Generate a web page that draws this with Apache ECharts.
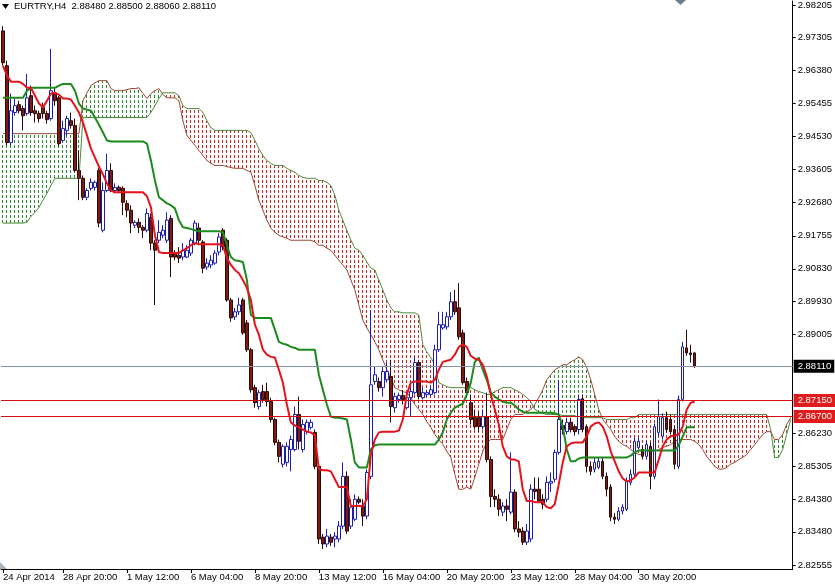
<!DOCTYPE html>
<html><head><meta charset="utf-8">
<script src="https://cdn.jsdelivr.net/npm/echarts@6/dist/echarts.min.js"></script>
<style>html,body{margin:0;padding:0;background:#fff}#c{width:835px;height:587px}</style>
</head><body><div id="c"></div>
<script>
const symbolName = 'EURTRY,H4';
const openP = [2.9748,2.9651,2.9436,2.9520,2.9542,2.9531,2.9517,2.9567,2.9525,2.9517,
 2.9534,2.9517,2.9503,2.9575,2.9561,2.9442,2.9470,2.9497,2.9484,2.9358,
 2.9336,2.9283,2.9308,2.9311,2.9358,2.9191,2.9302,2.9358,2.9302,2.9311,
 2.9308,2.9266,2.9247,2.9205,2.9213,2.9199,2.9191,2.9227,2.9155,2.9163,
 2.9177,2.9163,2.9224,2.9127,2.9121,2.9116,2.9116,2.9127,2.9155,2.9197,
 2.9158,2.9088,2.9094,2.9099,2.9130,2.9191,2.9163,2.8996,2.8949,2.8963,
 2.8996,2.8932,2.8857,2.8751,2.8698,2.8740,2.8740,2.8712,2.8662,2.8598,
 2.8537,2.8542,2.8578,2.8578,2.8676,2.8578,2.8628,2.8640,2.8626,2.8531,
 2.8333,2.8314,2.8333,2.8328,2.8328,2.8364,2.8503,2.8364,2.8383,2.8439,
 2.8420,2.8392,2.8503,2.8768,2.8768,2.8751,2.8773,2.8782,2.8695,2.8718,
 2.8729,2.8695,2.8723,2.8737,2.8821,2.8723,2.8732,2.8732,2.8737,2.8857,
 2.8918,2.8921,2.8949,2.8991,2.8974,2.8904,2.8768,2.8709,2.8667,2.8667,
 2.8642,2.8670,2.8550,2.8447,2.8439,2.8403,2.8420,2.8403,2.8459,2.8356,
 2.8350,2.8319,2.8328,2.8467,2.8467,2.8439,2.8439,2.8484,2.8495,2.8570,
 2.8645,2.8628,2.8654,2.8642,2.8634,2.8720,2.8642,2.8531,2.8523,2.8528,
 2.8545,2.8503,2.8473,2.8389,2.8383,2.8406,2.8411,2.8486,2.8509,2.8584,
 2.8578,2.8559,2.8587,2.8503,2.8626,2.8615,2.8667,2.8662,2.8634,2.8531,
 2.8718,2.8862,2.8848,2.8848];
const closeP = [2.9659,2.9436,2.9525,2.9539,2.9525,2.9511,2.9561,2.9520,2.9517,2.9503,
 2.9517,2.9500,2.9581,2.9553,2.9433,2.9475,2.9503,2.9484,2.9358,2.9336,
 2.9283,2.9302,2.9325,2.9325,2.9211,2.9302,2.9358,2.9302,2.9311,2.9302,
 2.9269,2.9247,2.9211,2.9213,2.9199,2.9191,2.9238,2.9155,2.9135,2.9185,
 2.9191,2.9219,2.9116,2.9116,2.9113,2.9135,2.9135,2.9163,2.9211,2.9163,
 2.9085,2.9099,2.9107,2.9127,2.9172,2.9144,2.8996,2.8946,2.8963,2.8982,
 2.8904,2.8857,2.8745,2.8709,2.8737,2.8718,2.8712,2.8662,2.8598,2.8559,
 2.8587,2.8587,2.8606,2.8676,2.8601,2.8648,2.8654,2.8654,2.8531,2.8328,
 2.8314,2.8336,2.8319,2.8336,2.8364,2.8503,2.8350,2.8417,2.8439,2.8431,
 2.8392,2.8514,2.8759,2.8787,2.8751,2.8796,2.8796,2.8698,2.8726,2.8729,
 2.8718,2.8723,2.8740,2.8821,2.8726,2.8737,2.8737,2.8745,2.8857,2.8927,
 2.8927,2.8949,2.8991,2.8963,2.8893,2.8765,2.8737,2.8662,2.8642,2.8642,
 2.8670,2.8550,2.8447,2.8439,2.8411,2.8420,2.8411,2.8459,2.8356,2.8347,
 2.8319,2.8350,2.8467,2.8461,2.8434,2.8425,2.8486,2.8489,2.8570,2.8662,
 2.8634,2.8654,2.8634,2.8628,2.8718,2.8634,2.8531,2.8517,2.8542,2.8545,
 2.8503,2.8467,2.8389,2.8383,2.8406,2.8417,2.8489,2.8509,2.8601,2.8601,
 2.8559,2.8592,2.8503,2.8642,2.8670,2.8667,2.8634,2.8628,2.8537,2.8718,
 2.8865,2.8848,2.8843,2.8811];
const highP = [2.9762,2.9665,2.9573,2.9559,2.9553,2.9539,2.9628,2.9595,2.9539,2.9525,
 2.9548,2.9525,2.9698,2.9587,2.9567,2.9497,2.9511,2.9520,2.9503,2.9414,
 2.9344,2.9308,2.9336,2.9330,2.9364,2.9325,2.9405,2.9378,2.9322,2.9316,
 2.9314,2.9275,2.9261,2.9219,2.9224,2.9205,2.9252,2.9238,2.9163,2.9219,
 2.9205,2.9241,2.9233,2.9135,2.9144,2.9155,2.9149,2.9169,2.9219,2.9211,
 2.9163,2.9113,2.9121,2.9135,2.9183,2.9197,2.9169,2.9002,2.8974,2.9002,
 2.9002,2.8940,2.8862,2.8759,2.8745,2.8759,2.8765,2.8723,2.8667,2.8606,
 2.8592,2.8598,2.8617,2.8698,2.8726,2.8662,2.8662,2.8662,2.8634,2.8537,
 2.8342,2.8356,2.8342,2.8347,2.8378,2.8542,2.8517,2.8439,2.8453,2.8447,
 2.8439,2.8523,2.8968,2.8810,2.8779,2.8810,2.8823,2.8829,2.8737,2.8737,
 2.8745,2.8737,2.8751,2.8837,2.8829,2.8751,2.8745,2.8759,2.8871,2.8963,
 2.8963,2.8963,2.9018,2.9024,2.9043,2.8913,2.8779,2.8732,2.8690,2.8684,
 2.8690,2.8737,2.8559,2.8467,2.8453,2.8431,2.8439,2.8570,2.8467,2.8378,
 2.8361,2.8370,2.8481,2.8500,2.8500,2.8453,2.8503,2.8514,2.8578,2.8773,
 2.8662,2.8667,2.8667,2.8648,2.8732,2.8732,2.8648,2.8545,2.8556,2.8556,
 2.8556,2.8514,2.8481,2.8400,2.8417,2.8425,2.8500,2.8523,2.8612,2.8612,
 2.8590,2.8603,2.8598,2.8651,2.8718,2.8679,2.8684,2.8676,2.8645,2.8729,
 2.8879,2.8913,2.8871,2.8850];
const lowP = [2.9651,2.9428,2.9428,2.9511,2.9517,2.9470,2.9511,2.9511,2.9492,2.9492,
 2.9503,2.9489,2.9497,2.9539,2.9425,2.9436,2.9456,2.9475,2.9353,2.9275,
 2.9275,2.9275,2.9302,2.9302,2.9199,2.9185,2.9297,2.9297,2.9294,2.9294,
 2.9233,2.9227,2.9183,2.9197,2.9183,2.9169,2.9185,2.9135,2.8982,2.9155,
 2.9169,2.9155,2.9060,2.9107,2.9099,2.9107,2.9113,2.9119,2.9149,2.9155,
 2.9071,2.9080,2.9085,2.9094,2.9121,2.9135,2.8991,2.8935,2.8940,2.8954,
 2.8899,2.8851,2.8737,2.8695,2.8690,2.8709,2.8698,2.8654,2.8590,2.8542,
 2.8528,2.8531,2.8517,2.8573,2.8578,2.8570,2.8620,2.8634,2.8523,2.8314,
 2.8300,2.8305,2.8308,2.8305,2.8319,2.8356,2.8342,2.8356,2.8378,2.8425,
 2.8364,2.8383,2.8495,2.8759,2.8740,2.8726,2.8765,2.8654,2.8681,2.8709,
 2.8704,2.8690,2.8670,2.8732,2.8718,2.8718,2.8726,2.8726,2.8732,2.8851,
 2.8913,2.8913,2.8940,2.8954,2.8885,2.8759,2.8723,2.8648,2.8634,2.8628,
 2.8634,2.8542,2.8417,2.8417,2.8392,2.8392,2.8378,2.8397,2.8347,2.8333,
 2.8311,2.8311,2.8319,2.8439,2.8431,2.8411,2.8431,2.8459,2.8486,2.8564,
 2.8620,2.8620,2.8626,2.8617,2.8620,2.8626,2.8514,2.8506,2.8514,2.8523,
 2.8495,2.8447,2.8378,2.8370,2.8378,2.8397,2.8406,2.8478,2.8503,2.8578,
 2.8550,2.8550,2.8467,2.8495,2.8617,2.8606,2.8626,2.8620,2.8523,2.8523,
 2.8712,2.8840,2.8821,2.8806];
const tenkan = [2.9651,2.9623,2.9606,2.9606,2.9606,2.9600,2.9589,2.9589,2.9567,2.9545,
 2.9534,2.9553,2.9573,2.9575,2.9570,2.9559,2.9559,2.9556,2.9539,2.9520,
 2.9492,2.9456,2.9419,2.9394,2.9369,2.9347,2.9322,2.9302,2.9297,2.9297,
 2.9297,2.9297,2.9297,2.9297,2.9297,2.9297,2.9286,2.9255,2.9177,2.9130,
 2.9127,2.9127,2.9127,2.9127,2.9127,2.9135,2.9141,2.9149,2.9155,2.9152,
 2.9152,2.9152,2.9152,2.9152,2.9152,2.9149,2.9113,2.9094,2.9080,2.9071,
 2.9052,2.9030,2.8996,2.8927,2.8899,2.8857,2.8843,2.8837,2.8835,2.8801,
 2.8765,2.8704,2.8654,2.8645,2.8640,2.8634,2.8628,2.8626,2.8617,2.8523,
 2.8520,2.8520,2.8517,2.8495,2.8473,2.8473,2.8473,2.8420,2.8420,2.8420,
 2.8420,2.8439,2.8564,2.8606,2.8626,2.8628,2.8628,2.8628,2.8628,2.8631,
 2.8662,2.8732,2.8765,2.8768,2.8768,2.8768,2.8768,2.8765,2.8773,2.8801,
 2.8823,2.8826,2.8829,2.8843,2.8865,2.8871,2.8865,2.8840,2.8832,2.8829,
 2.8815,2.8782,2.8732,2.8690,2.8648,2.8587,2.8559,2.8550,2.8550,2.8545,
 2.8467,2.8434,2.8434,2.8431,2.8431,2.8431,2.8417,2.8414,2.8425,2.8481,
 2.8542,2.8587,2.8595,2.8598,2.8598,2.8598,2.8615,2.8642,2.8651,2.8654,
 2.8642,2.8615,2.8573,2.8545,2.8517,2.8497,2.8489,2.8492,2.8500,2.8514,
 2.8514,2.8514,2.8514,2.8514,2.8550,2.8587,2.8606,2.8615,2.8617,2.8620,
 2.8642,2.8690,2.8709,2.8712];
const kijun = [2.9561,2.9561,2.9561,2.9561,2.9561,2.9561,2.9581,2.9589,2.9589,2.9589,
 2.9589,2.9589,2.9589,2.9589,2.9595,2.9600,2.9600,2.9600,2.9581,2.9545,
 2.9531,2.9528,2.9525,2.9506,2.9486,2.9464,2.9442,2.9439,2.9439,2.9439,
 2.9439,2.9439,2.9439,2.9439,2.9439,2.9439,2.9433,2.9386,2.9330,2.9283,
 2.9275,2.9266,2.9261,2.9252,2.9219,2.9199,2.9197,2.9194,2.9191,2.9188,
 2.9188,2.9188,2.9188,2.9188,2.9188,2.9185,2.9149,2.9116,2.9107,2.9105,
 2.9102,2.9052,2.8954,2.8946,2.8946,2.8946,2.8946,2.8946,2.8913,2.8879,
 2.8874,2.8871,2.8865,2.8862,2.8857,2.8857,2.8857,2.8857,2.8857,2.8787,
 2.8745,2.8704,2.8670,2.8667,2.8667,2.8665,2.8662,2.8606,2.8542,2.8528,
 2.8528,2.8528,2.8578,2.8590,2.8592,2.8592,2.8592,2.8592,2.8592,2.8592,
 2.8592,2.8592,2.8592,2.8592,2.8592,2.8592,2.8592,2.8592,2.8592,2.8606,
 2.8626,2.8662,2.8681,2.8695,2.8701,2.8706,2.8732,2.8765,2.8823,2.8835,
 2.8801,2.8773,2.8737,2.8726,2.8718,2.8712,2.8709,2.8709,2.8701,2.8690,
 2.8684,2.8681,2.8681,2.8681,2.8681,2.8681,2.8681,2.8681,2.8679,2.8676,
 2.8642,2.8578,2.8545,2.8545,2.8553,2.8556,2.8556,2.8556,2.8556,2.8556,
 2.8556,2.8556,2.8556,2.8556,2.8556,2.8556,2.8556,2.8561,2.8570,2.8575,
 2.8575,2.8575,2.8575,2.8575,2.8575,2.8575,2.8575,2.8575,2.8575,2.8590,
 2.8615,2.8640,2.8640,2.8640];
const spanA = [2.9461,2.9461,2.9461,2.9461,2.9461,2.9461,2.9461,2.9461,2.9461,2.9461,
 2.9461,2.9461,2.9461,2.9461,2.9461,2.9461,2.9461,2.9461,2.9461,2.9461,
 2.9553,2.9575,2.9595,2.9603,2.9609,2.9609,2.9609,2.9587,2.9581,2.9581,
 2.9581,2.9584,2.9587,2.9587,2.9589,2.9573,2.9559,2.9573,2.9581,2.9587,
 2.9570,2.9561,2.9561,2.9561,2.9553,2.9497,2.9456,2.9442,2.9428,2.9414,
 2.9400,2.9386,2.9378,2.9372,2.9372,2.9372,2.9369,2.9366,2.9364,2.9364,
 2.9364,2.9358,2.9353,2.9316,2.9275,2.9247,2.9219,2.9197,2.9185,2.9177,
 2.9172,2.9169,2.9163,2.9163,2.9163,2.9163,2.9163,2.9163,2.9158,2.9149,
 2.9149,2.9141,2.9135,2.9121,2.9107,2.9094,2.9080,2.9052,2.9024,2.8982,
 2.8940,2.8918,2.8899,2.8879,2.8857,2.8829,2.8801,2.8779,2.8751,2.8745,
 2.8740,2.8737,2.8723,2.8704,2.8690,2.8676,2.8656,2.8640,2.8620,2.8606,
 2.8592,2.8573,2.8556,2.8509,2.8467,2.8467,2.8473,2.8467,2.8500,2.8537,
 2.8573,2.8598,2.8606,2.8606,2.8606,2.8606,2.8634,2.8662,2.8676,2.8676,
 2.8676,2.8684,2.8690,2.8704,2.8723,2.8745,2.8773,2.8787,2.8801,2.8807,
 2.8815,2.8815,2.8823,2.8829,2.8837,2.8829,2.8807,2.8773,2.8732,2.8690,
 2.8662,2.8648,2.8634,2.8615,2.8601,2.8592,2.8587,2.8578,2.8570,2.8564,
 2.8564,2.8573,2.8573,2.8573,2.8578,2.8584,2.8587,2.8592,2.8601,2.8606,
 2.8606,2.8606,2.8606,2.8601,2.8592,2.8578,2.8559,2.8545,2.8531,2.8523,
 2.8523,2.8528,2.8537,2.8542,2.8550,2.8556,2.8564,2.8578,2.8592,2.8606,
 2.8620,2.8628,2.8628,2.8606,2.8606,2.8620,2.8648,2.8667];
const spanB = [2.9211,2.9211,2.9211,2.9211,2.9211,2.9211,2.9213,2.9230,2.9241,2.9255,
 2.9275,2.9294,2.9316,2.9336,2.9336,2.9336,2.9336,2.9336,2.9336,2.9336,
 2.9506,2.9506,2.9506,2.9506,2.9506,2.9506,2.9506,2.9506,2.9506,2.9506,
 2.9506,2.9506,2.9506,2.9506,2.9506,2.9506,2.9506,2.9520,2.9539,2.9559,
 2.9575,2.9575,2.9575,2.9575,2.9567,2.9539,2.9531,2.9531,2.9531,2.9531,
 2.9520,2.9497,2.9478,2.9470,2.9470,2.9470,2.9470,2.9470,2.9470,2.9470,
 2.9470,2.9470,2.9464,2.9442,2.9419,2.9400,2.9386,2.9378,2.9372,2.9372,
 2.9372,2.9364,2.9358,2.9353,2.9344,2.9339,2.9336,2.9336,2.9336,2.9330,
 2.9330,2.9325,2.9316,2.9289,2.9247,2.9219,2.9191,2.9163,2.9141,2.9135,
 2.9121,2.9102,2.9085,2.9080,2.9052,2.9024,2.8996,2.8974,2.8963,2.8963,
 2.8960,2.8960,2.8960,2.8960,2.8954,2.8871,2.8851,2.8835,2.8815,2.8765,
 2.8759,2.8754,2.8751,2.8751,2.8751,2.8751,2.8751,2.8751,2.8745,2.8740,
 2.8737,2.8732,2.8732,2.8740,2.8745,2.8751,2.8751,2.8751,2.8745,2.8740,
 2.8732,2.8723,2.8712,2.8690,2.8684,2.8679,2.8676,2.8676,2.8676,2.8676,
 2.8673,2.8673,2.8673,2.8673,2.8667,2.8667,2.8667,2.8667,2.8667,2.8667,
 2.8667,2.8662,2.8662,2.8662,2.8662,2.8662,2.8662,2.8667,2.8667,2.8676,
 2.8676,2.8676,2.8676,2.8676,2.8676,2.8676,2.8676,2.8676,2.8676,2.8676,
 2.8676,2.8676,2.8676,2.8676,2.8676,2.8676,2.8676,2.8676,2.8676,2.8676,
 2.8676,2.8676,2.8676,2.8676,2.8676,2.8676,2.8676,2.8676,2.8676,2.8676,
 2.8676,2.8676,2.8634,2.8556,2.8556,2.8578,2.8620,2.8662];
const priceTicks = [2.98205,2.97305,2.96380,2.95455,2.94530,2.93605,2.92680,2.91755,2.90830,
 2.89930,2.89005,2.86230,2.85305,2.84380,2.83480,2.82555];
const levelLines = [2.87150, 2.86700];
const firstBarUTC = Date.UTC(2014, 3, 24, 8);
const MONTHS = ['Jan','Feb','Mar','Apr','May','Jun','Jul','Aug','Sep','Oct','Nov','Dec'];

const nSlots = spanA.length;
const nBars = openP.length;
const pad = n => (n < 10 ? '0' : '') + n;
const categories = [];
const catDates = [];
for (let t = firstBarUTC; categories.length < nSlots; t += 4 * 3600 * 1000) {
  const d = new Date(t), wd = d.getUTCDay();
  if (wd === 0 || wd === 6) continue;
  catDates.push(d);
  categories.push(d.getUTCDate() + ' ' + MONTHS[d.getUTCMonth()] + ' ' + pad(d.getUTCHours()) + ':' + pad(d.getUTCMinutes()));
}
const showLabel = i => i < nBars && (i === 0 || (i % 16) === 15);

const candles = openP.map((o, i) => [o, closeP[i], lowP[i], highP[i]]);
const cloud = spanA.map((a, i) => [i, a, spanB[i]]);

function makePattern(color) {
  const c = document.createElement('canvas');
  c.width = 4; c.height = 5;
  const g = c.getContext('2d');
  g.fillStyle = color;
  g.fillRect(2, 0, 1, 3);
  return { image: c, repeat: 'repeat' };
}
const greenPat = makePattern('#2f8a2f');
const redPat = makePattern('#c42a24');

const FONT = '"Liberation Sans", Arial, sans-serif';
const last = nBars - 1;
const titleText = symbolName + '  ' + [openP[last], highP[last], lowP[last], closeP[last]].map(v => v.toFixed(5)).join(' ');

const chart = echarts.init(document.getElementById('c'), null, { renderer: 'canvas' });
chart.setOption({
  animation: false,
  backgroundColor: '#ffffff',
  grid: { left: 0, right: 42, top: 0, bottom: 18, containLabel: false },
  xAxis: {
    type: 'category', data: categories, boundaryGap: true,
    axisLine: { show: true, lineStyle: { color: '#000', width: 1 } },
    axisTick: { show: true, alignWithLabel: true, length: 4, interval: (i) => showLabel(i), lineStyle: { color: '#000' } },
    axisLabel: {
      show: true, interval: (i) => showLabel(i), align: 'left', margin: 3,
      fontSize: 9.5, fontFamily: FONT, color: '#000',
      formatter: (v, i) => i === 0 ? (catDates[0].getUTCDate() + ' ' + MONTHS[catDates[0].getUTCMonth()] + ' ' + catDates[0].getUTCFullYear()) : v
    },
    splitLine: { show: false }
  },
  yAxis: {
    type: 'value', position: 'right', min: 2.82441, max: 2.98316, scale: true,
    axisLine: { show: true, onZero: false, lineStyle: { color: '#000', width: 1 } },
    axisTick: { show: true, length: 3, customValues: priceTicks, lineStyle: { color: '#000' } },
    axisLabel: { show: true, customValues: priceTicks, margin: 5, fontSize: 9.5, fontFamily: FONT, color: '#000', formatter: v => v.toFixed(5) },
    splitLine: { show: false }
  },
  graphic: [
    { type: 'polygon', shape: { points: [[2, 4], [9, 4], [5.5, 9]] }, style: { fill: '#000' }, z: 100 },
    { type: 'text', left: 14, top: 1, style: { text: titleText, fill: '#000', font: '9.5px ' + FONT }, z: 100 },
    { type: 'polygon', shape: { points: [[675, 0], [686, 0], [680.5, 5]] }, style: { fill: '#6b7d91' }, z: 100 },
    { type: 'polygon', shape: { points: [[0, 562], [0, 569], [7, 569]] }, style: { fill: '#a9b3bd' }, z: 100 }
  ],
  series: [
    {
      type: 'custom', name: 'cloud', z: 1, silent: true, clip: true,
      data: cloud,
      renderItem: (params, api) => {
        const i = api.value(0), a = api.value(1), b = api.value(2);
        const pa = api.coord([i, a]), pb = api.coord([i, b]);
        const w = api.size([1, 0])[0];
        const top = Math.min(pa[1], pb[1]);
        const h = Math.max(Math.abs(pa[1] - pb[1]), 1);
        return { type: 'rect', shape: { x: pa[0] - w / 2, y: top, width: w, height: h },
          style: { fill: a >= b ? greenPat : redPat } };
      }
    },
    { type: 'line', name: 'spanA', data: spanA, z: 2, symbol: 'none', silent: true,
      lineStyle: { color: '#9b4a35', width: 1 } },
    { type: 'line', name: 'spanB', data: spanB, z: 2, symbol: 'none', silent: true,
      lineStyle: { color: '#4f8a3c', width: 1 } },
    { type: 'candlestick', name: 'EURTRY', data: candles, z: 3, barWidth: 3, silent: true,
      itemStyle: { color: '#ffffff', color0: '#7d1b12', borderColor: '#1c1cb0', borderColor0: '#2b0905', borderWidth: 1 } },
    { type: 'line', name: 'kijun', data: kijun, z: 4, symbol: 'none', silent: true,
      lineStyle: { color: '#1c8a1c', width: 2 } },
    { type: 'line', name: 'tenkan', data: tenkan, z: 5, symbol: 'none', silent: true,
      lineStyle: { color: '#e3141b', width: 2 } },
    { type: 'line', name: 'levels', data: [], z: 6, silent: true,
      markLine: {
        silent: true, symbol: ['none', 'none'], animation: false, precision: 5,
        data: [
          { yAxis: closeP[last], lineStyle: { color: '#8593a3', width: 1, type: 'solid' },
            label: { backgroundColor: '#000' } },
          { yAxis: levelLines[0], lineStyle: { color: '#d01010', width: 1, type: 'solid' },
            label: { backgroundColor: '#e01b1b' } },
          { yAxis: levelLines[1], lineStyle: { color: '#d01010', width: 1, type: 'solid' },
            label: { backgroundColor: '#e01b1b' } }
        ],
        label: { show: true, position: 'end', distance: 1, color: '#fff', fontSize: 9.5, fontFamily: FONT,
          lineHeight: 11, padding: [1, 3, 1, 4], formatter: p => Number(p.value).toFixed(5) }
      }
    }
  ]
});
</script>
</body></html>
